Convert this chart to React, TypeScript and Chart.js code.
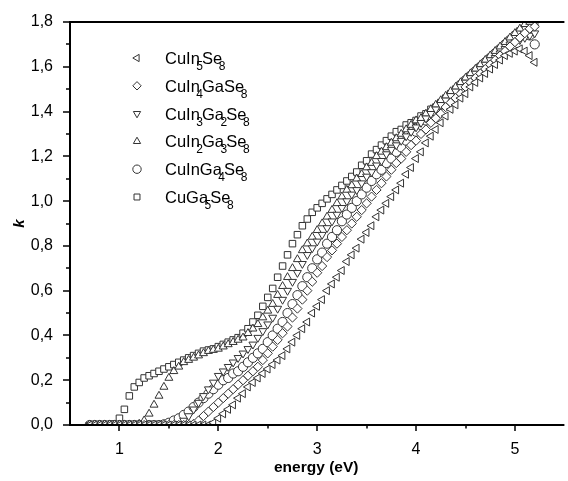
import React, { useEffect, useRef } from 'react';
import { Chart, registerables } from 'chart.js';
import { drawPoint } from 'chart.js/helpers';

Chart.register(...registerables);

// ---------- data ----------
const energy = [
  0.70, 0.75, 0.80, 0.85, 0.90, 0.95, 1.00, 1.05, 1.10, 1.15,
  1.20, 1.25, 1.30, 1.35, 1.40, 1.45, 1.50, 1.55, 1.60, 1.65,
  1.70, 1.75, 1.80, 1.85, 1.90, 1.95, 2.00, 2.05, 2.10, 2.15,
  2.20, 2.25, 2.30, 2.35, 2.40, 2.45, 2.50, 2.55, 2.60, 2.65,
  2.70, 2.75, 2.80, 2.85, 2.90, 2.95, 3.00, 3.05, 3.10, 3.15,
  3.20, 3.25, 3.30, 3.35, 3.40, 3.45, 3.50, 3.55, 3.60, 3.65,
  3.70, 3.75, 3.80, 3.85, 3.90, 3.95, 4.00, 4.05, 4.10, 4.15,
  4.20, 4.25, 4.30, 4.35, 4.40, 4.45, 4.50, 4.55, 4.60, 4.65,
  4.70, 4.75, 4.80, 4.85, 4.90, 4.95, 5.00, 5.05, 5.10, 5.15,
  5.20,
];

const kCuIn5Se8 = [
  0, 0, 0, 0, 0, 0, 0, 0, 0, 0,
  0, 0, 0, 0, 0, 0, 0, 0, 0, 0,
  0, 0, 0, 0, 0, 0.01, 0.03, 0.05, 0.07, 0.09,
  0.12, 0.14, 0.17, 0.19, 0.21, 0.23, 0.25, 0.27, 0.29, 0.31,
  0.34, 0.37, 0.40, 0.43, 0.46, 0.50, 0.53, 0.56, 0.60, 0.63,
  0.66, 0.69, 0.73, 0.76, 0.79, 0.83, 0.86, 0.89, 0.93, 0.96,
  0.99, 1.02, 1.05, 1.08, 1.12, 1.15, 1.19, 1.22, 1.26, 1.29,
  1.32, 1.35, 1.38, 1.41, 1.43, 1.46, 1.48, 1.51, 1.53, 1.55,
  1.57, 1.59, 1.61, 1.63, 1.65, 1.66, 1.67, 1.68, 1.67, 1.65,
  1.62,
];

const kCuIn4GaSe8 = [
  0, 0, 0, 0, 0, 0, 0, 0, 0, 0,
  0, 0, 0, 0, 0, 0, 0, 0, 0, 0,
  0, 0.005, 0.02, 0.04, 0.06, 0.08, 0.10, 0.12, 0.14, 0.16,
  0.18, 0.20, 0.22, 0.24, 0.26, 0.29, 0.32, 0.35, 0.38, 0.41,
  0.44, 0.48, 0.52, 0.56, 0.60, 0.64, 0.68, 0.71, 0.75, 0.78,
  0.81, 0.84, 0.87, 0.90, 0.93, 0.96, 0.99, 1.02, 1.05, 1.08,
  1.11, 1.14, 1.17, 1.19, 1.22, 1.25, 1.27, 1.30, 1.32, 1.35,
  1.37, 1.39, 1.42, 1.44, 1.46, 1.48, 1.51, 1.53, 1.55, 1.57,
  1.59, 1.61, 1.63, 1.65, 1.67, 1.69, 1.71, 1.73, 1.75, 1.77,
  1.78,
];

const kCuIn3Ga2Se8 = [
  0, 0, 0, 0, 0, 0, 0, 0, 0, 0,
  0, 0, 0, 0, 0, 0, 0, 0, 0.005, 0.02,
  0.04, 0.07, 0.10, 0.13, 0.16, 0.19, 0.22, 0.24, 0.26, 0.28,
  0.30, 0.32, 0.34, 0.36, 0.39, 0.42, 0.45, 0.48, 0.52, 0.56,
  0.60, 0.64, 0.68, 0.72, 0.76, 0.79, 0.82, 0.85, 0.88, 0.91,
  0.94, 0.97, 1.00, 1.03, 1.05, 1.08, 1.11, 1.13, 1.16, 1.18,
  1.21, 1.23, 1.25, 1.27, 1.29, 1.31, 1.33, 1.35, 1.37, 1.39,
  1.41, 1.43, 1.45, 1.47, 1.49, 1.51, 1.53, 1.55, 1.57, 1.59,
  1.61, 1.63, 1.64, 1.66, 1.68, 1.70, 1.71, 1.72, 1.73, 1.74,
  1.75,
];

const kCuIn2Ga3Se8 = [
  0, 0, 0, 0, 0, 0, 0, 0, 0, 0,
  0.005, 0.02, 0.05, 0.09, 0.13, 0.17, 0.21, 0.24, 0.26, 0.28,
  0.29, 0.30, 0.31, 0.32, 0.33, 0.335, 0.34, 0.35, 0.36, 0.37,
  0.38, 0.39, 0.41, 0.43, 0.45, 0.48, 0.51, 0.54, 0.58, 0.62,
  0.66, 0.70, 0.74, 0.78, 0.81, 0.84, 0.87, 0.90, 0.93, 0.96,
  0.99, 1.02, 1.05, 1.07, 1.10, 1.12, 1.15, 1.17, 1.20, 1.22,
  1.24, 1.26, 1.28, 1.30, 1.32, 1.34, 1.36, 1.37, 1.39, 1.41,
  1.43, 1.45, 1.47, 1.49, 1.51, 1.53, 1.55, 1.57, 1.59, 1.61,
  1.63, 1.65, 1.67, 1.69, 1.71, 1.73, 1.75, 1.77, 1.79, 1.80,
  1.81,
];

const kCuInGa4Se8 = [
  0, 0, 0, 0, 0, 0, 0, 0, 0, 0,
  0, 0, 0, 0, 0, 0.003, 0.01, 0.02, 0.03, 0.045,
  0.06, 0.08, 0.10, 0.12, 0.14, 0.16, 0.18, 0.20, 0.21, 0.23,
  0.24, 0.26, 0.28, 0.30, 0.32, 0.34, 0.37, 0.40, 0.43, 0.46,
  0.50, 0.54, 0.58, 0.62, 0.66, 0.70, 0.74, 0.77, 0.81, 0.84,
  0.87, 0.91, 0.94, 0.97, 1.00, 1.03, 1.06, 1.09, 1.12, 1.14,
  1.17, 1.19, 1.22, 1.24, 1.27, 1.29, 1.31, 1.34, 1.36, 1.38,
  1.40, 1.43, 1.45, 1.47, 1.49, 1.52, 1.54, 1.56, 1.58, 1.60,
  1.62, 1.64, 1.66, 1.68, 1.70, 1.72, 1.74, 1.75, 1.76, 1.74,
  1.70,
];

const kCuGa5Se8 = [
  0, 0, 0, 0, 0, 0.005, 0.03, 0.07, 0.13, 0.17,
  0.19, 0.21, 0.22, 0.23, 0.24, 0.25, 0.26, 0.27, 0.28, 0.29,
  0.30, 0.31, 0.32, 0.33, 0.335, 0.34, 0.35, 0.36, 0.37, 0.38,
  0.39, 0.41, 0.43, 0.46, 0.49, 0.53, 0.57, 0.61, 0.66, 0.71,
  0.76, 0.81, 0.85, 0.89, 0.92, 0.95, 0.97, 0.99, 1.01, 1.03,
  1.05, 1.07, 1.09, 1.11, 1.13, 1.16, 1.18, 1.21, 1.23, 1.25,
  1.27, 1.29, 1.31, 1.32, 1.34, 1.35, 1.36, 1.38, 1.39, 1.41,
  1.42, 1.44, 1.46, 1.48, 1.50, 1.52, 1.54, 1.56, 1.58, 1.60,
  1.62, 1.64, 1.66, 1.68, 1.70, 1.72, 1.74, 1.76, 1.77, 1.78,
  1.79,
];

const seriesLabels = ['CuIn5Se8', 'CuIn4GaSe8', 'CuIn3Ga2Se8', 'CuIn2Ga3Se8', 'CuInGa4Se8', 'CuGa5Se8'];
const seriesValues = [kCuIn5Se8, kCuIn4GaSe8, kCuIn3Ga2Se8, kCuIn2Ga3Se8, kCuInGa4Se8, kCuGa5Se8];
const seriesStyles = ['triangle', 'rectRot', 'triangle', 'triangle', 'circle', 'rect'];
const seriesRotations = [-90, 0, 180, 0, 0, 0];

const xTicks = [1, 2, 3, 4, 5];
const xMinorTicks = [1.5, 2.5, 3.5, 4.5];
const yTicks = [0, 0.2, 0.4, 0.6, 0.8, 1.0, 1.2, 1.4, 1.6, 1.8];
const yMinorTicks = [0.1, 0.3, 0.5, 0.7, 0.9, 1.1, 1.3, 1.5, 1.7];

// ---------- styling ----------
const FONT = "'Liberation Sans', Arial, sans-serif";
const MARKER = '#333333';

const framePlugin = {
  id: 'frame',
  afterDraw(chart: any) {
    const { ctx, chartArea: a, scales } = chart;
    const x = scales.x;
    const y = scales.y;
    ctx.save();
    ctx.strokeStyle = '#000';
    ctx.lineWidth = 2;
    ctx.beginPath();
    ctx.moveTo(a.left - 1, a.top);
    ctx.lineTo(a.right + 2, a.top);
    ctx.moveTo(a.left, a.top - 1);
    ctx.lineTo(a.left, a.bottom + 1);
    ctx.moveTo(a.left - 1, a.bottom);
    ctx.lineTo(a.right + 2, a.bottom);
    ctx.stroke();
    ctx.lineWidth = 1.5;
    ctx.beginPath();
    xTicks.forEach((v) => {
      const px = Math.round(x.getPixelForValue(v));
      ctx.moveTo(px, a.bottom);
      ctx.lineTo(px, a.bottom + 6);
    });
    xMinorTicks.forEach((v) => {
      const px = Math.round(x.getPixelForValue(v));
      ctx.moveTo(px, a.bottom);
      ctx.lineTo(px, a.bottom + 3.5);
    });
    yTicks.forEach((v) => {
      const py = Math.round(y.getPixelForValue(v));
      ctx.moveTo(a.left, py);
      ctx.lineTo(a.left - 7, py);
    });
    yMinorTicks.forEach((v) => {
      const py = Math.round(y.getPixelForValue(v));
      ctx.moveTo(a.left, py);
      ctx.lineTo(a.left - 4, py);
    });
    ctx.stroke();
    ctx.restore();
  },
};

const legendPlugin = {
  id: 'subLegend',
  afterDraw(chart: any) {
    const ctx = chart.ctx;
    ctx.save();
    seriesLabels.forEach((label, i) => {
      const cy = 58 + i * 27.8;
      ctx.strokeStyle = MARKER;
      ctx.fillStyle = '#fff';
      ctx.lineWidth = 1;
      drawPoint(ctx, { pointStyle: seriesStyles[i], rotation: seriesRotations[i], radius: 4.2, borderWidth: 1 } as any, 137, cy);
      ctx.fillStyle = '#000';
      ctx.textBaseline = 'alphabetic';
      ctx.textAlign = 'left';
      let cx = 165;
      label.split(/(\d+)/).filter((s) => s.length).forEach((seg) => {
        if (/^\d+$/.test(seg)) {
          ctx.font = `12px ${FONT}`;
          ctx.fillText(seg, cx - 3.5, cy + 12);
          cx += ctx.measureText(seg).width - 4.5;
        } else {
          ctx.font = `16.5px ${FONT}`;
          ctx.fillText(seg, cx, cy + 6);
          cx += ctx.measureText(seg).width;
        }
      });
    });
    ctx.restore();
  },
};

export default function App() {
  const ref = useRef<HTMLCanvasElement | null>(null);

  useEffect(() => {
    if (!ref.current) return;
    const datasets = seriesLabels.map((label, i) => ({
      label,
      data: energy.map((e, j) => ({ x: e, y: seriesValues[i][j] })),
      pointStyle: seriesStyles[i],
      pointRotation: seriesRotations[i],
      pointRadius: 4.6,
      pointBorderWidth: 1,
      borderColor: MARKER,
      backgroundColor: '#fff',
      showLine: false,
    }));
    const chart = new Chart(ref.current, {
      type: 'scatter',
      data: { datasets } as any,
      plugins: [framePlugin, legendPlugin],
      options: {
        animation: false,
        responsive: false,
        events: [],
        layout: { padding: { top: 22, right: 0, left: 0, bottom: 0 } },
        plugins: { legend: { display: false }, tooltip: { enabled: false } },
        scales: {
          x: {
            type: 'linear',
            min: 0.5,
            max: 5.48,
            grid: { display: false },
            border: { display: false },
            afterBuildTicks: (s: any) => {
              s.ticks = xTicks.map((v) => ({ value: v }));
            },
            afterFit: (s: any) => {
              s.height = 56;
            },
            ticks: {
              color: '#000',
              font: { family: FONT, size: 16 },
              padding: 7,
              autoSkip: false,
              maxRotation: 0,
              callback: (v: any) => String(v),
            },
            title: {
              display: true,
              text: 'energy (eV)',
              color: '#000',
              font: { family: FONT, size: 15.5, weight: 'bold' },
              padding: { top: 0, bottom: 4 },
            },
          },
          y: {
            type: 'linear',
            min: 0,
            max: 1.8,
            grid: { display: false },
            border: { display: false },
            afterBuildTicks: (s: any) => {
              s.ticks = yTicks.map((v) => ({ value: v }));
            },
            afterFit: (s: any) => {
              s.width = 70;
            },
            ticks: {
              color: '#000',
              font: { family: FONT, size: 16 },
              padding: 9,
              autoSkip: false,
              callback: (v: any) => Number(v).toFixed(1).replace('.', ','),
            },
            title: {
              display: true,
              text: 'k',
              color: '#000',
              font: { family: FONT, size: 15, weight: 'bold', style: 'italic' },
              padding: { top: 11, bottom: 0 },
            },
          },
        },
      } as any,
    });
    return () => chart.destroy();
  }, []);

  return (
    <div style={{ position: 'absolute', left: 0, top: 0, width: 568, height: 481, background: '#fff' }}>
      <canvas ref={ref} width={568} height={481} style={{ display: 'block' }} />
    </div>
  );
}
